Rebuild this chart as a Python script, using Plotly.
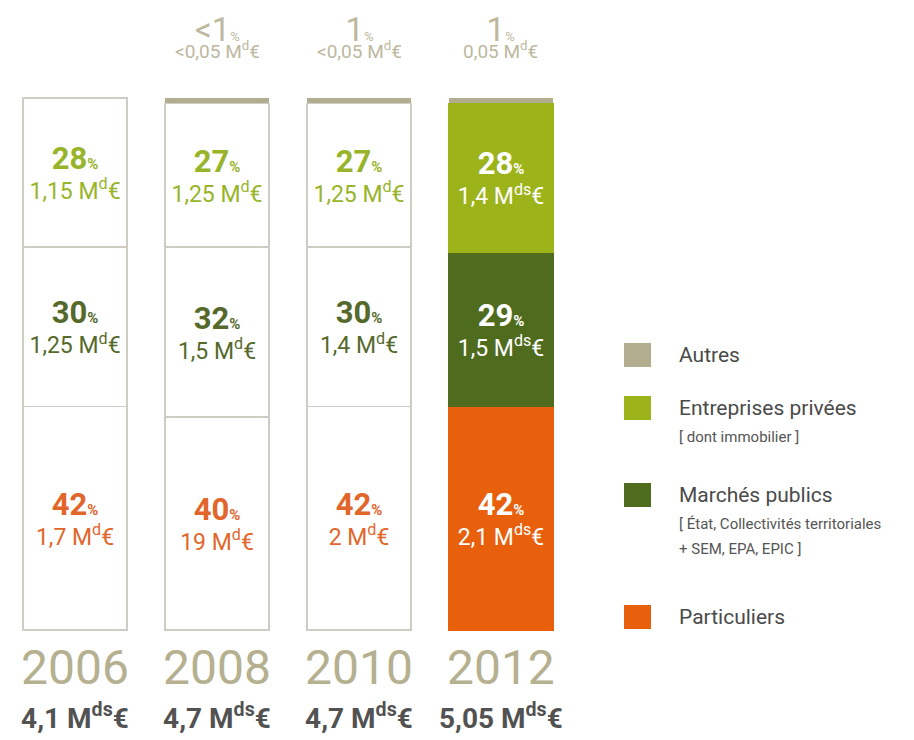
import plotly.graph_objects as go

# donnees
annees = ["2006", "2008", "2010", "2012"]
totaux = ["4,1", "4,7", "4,7", "5,05"]

part_pct = [42, 40, 42, 42]
part_val = ["1,7", "19", "2", "2,1"]
marche_pct = [30, 32, 30, 29]
marche_val = ["1,25", "1,5", "1,4", "1,5"]
entr_pct = [28, 27, 27, 28]
entr_val = ["1,15", "1,25", "1,25", "1,4"]
autres_pct = [0, 1, 1, 1]
autres_lbl = ["", "<1", "1", "1"]
autres_val = ["", "<0,05", "<0,05", "0,05"]
unite = ["M<sup>d</sup>€", "M<sup>d</sup>€", "M<sup>d</sup>€", "M<sup>ds</sup>€"]

FONT = "Liberation Sans Narrow, Roboto, sans-serif"
GRIS = "#cfccc3"
TAN = "#b3ad8f"
couleurs = {
    "Particuliers": "#e8600c",
    "Marchés publics": "#4f6b1e",
    "Entreprises privées": "#9db31a",
    "Autres": TAN,
}
textes = {
    "Particuliers": "#e2662c",
    "Marchés publics": "#56692b",
    "Entreprises privées": "#98b42a",
}

def label(pct, val, u):
    return (f"<b><span style='font-size:31px'>{pct}</span><span style='font-size:15px'>%</span></b>"
            f"<br>{val} {u}")

fig = go.Figure()

series = [("Particuliers", part_pct, part_val),
          ("Marchés publics", marche_pct, marche_val),
          ("Entreprises privées", entr_pct, entr_val)]

for nom, pct, val in series:
    filled = [a == "2012" for a in annees]
    fig.add_bar(
        x=annees, y=pct, name=nom, showlegend=False,
        marker=dict(color=[couleurs[nom] if f else "white" for f in filled],
                    line=dict(color=[couleurs[nom] if f else GRIS for f in filled], width=1.5)),
        text=[label(p, v, u) for p, v, u in zip(pct, val, unite)],
        textposition="inside", insidetextanchor="middle", textangle=0,
        constraintext="none",
        textfont=dict(family=FONT, size=23,
                      color=["white" if f else textes[nom] for f in filled]),
        hoverinfo="skip",
    )

fig.add_bar(x=annees, y=autres_pct, name="Autres", showlegend=False,
            marker=dict(color=TAN, line=dict(color=TAN, width=0)), hoverinfo="skip")

# etiquettes "Autres" au dessus des barres (x = index de categorie)
for i, (l, v) in enumerate(zip(autres_lbl, autres_val)):
    if not l:
        continue
    txt = (f"<span style='font-size:33px'>{l}</span><span style='font-size:13px'>%</span>"
           f"<br><span style='font-size:19px'>{v} M<sup>d</sup>€</span>")
    fig.add_annotation(x=i, y=111.6, text=txt, showarrow=False, yanchor="middle",
                       font=dict(family=FONT, color="#bdb8a0", size=13))

# annees et totaux sous les barres
for i, (a, t) in enumerate(zip(annees, totaux)):
    txt = (f"<span style='font-size:48px;color:#b5b08f'>{a}</span>"
           f"<br><b><span style='font-size:28px'>{t} M<sup>ds</sup>€</span></b>")
    fig.add_annotation(x=i, y=-10.8, text=txt, showarrow=False, yanchor="middle",
                       font=dict(family=FONT, color="#525252", size=34))

# legende faite a la main (pixels de la figure)
legende = [("Autres", 347, []),
           ("Entreprises privées", 400, ["[ dont immobilier ]"]),
           ("Marchés publics", 487, ["[ État, Collectivités territoriales", "+ SEM, EPA, EPIC ]"]),
           ("Particuliers", 609, [])]
W, H = 914, 740
for nom, py, sous in legende:
    fig.add_shape(type="rect", xref="paper", yref="paper",
                  x0=616 / W, x1=643 / W, y0=1 - (py + 12) / H, y1=1 - (py - 12) / H,
                  fillcolor=couleurs[nom], line=dict(width=0))
    fig.add_annotation(xref="paper", yref="paper", x=669 / W, y=1 - py / H, text=nom,
                       xanchor="left", yanchor="middle", showarrow=False,
                       font=dict(family=FONT, color="#4a4a4a", size=21))
    for k, s in enumerate(sous):
        fig.add_annotation(xref="paper", yref="paper", x=669 / W, y=1 - (py + 29 + 25 * k) / H,
                           text=s, xanchor="left", yanchor="middle", showarrow=False,
                           font=dict(family=FONT, color="#555555", size=15))

fig.update_layout(
    width=W, height=H, barmode="stack", bargap=0.27,
    margin=dict(l=0, r=0, t=0, b=0),
    plot_bgcolor="white", paper_bgcolor="white",
    xaxis=dict(type="category", range=[-0.472, 5.965], visible=False, showgrid=False),
    yaxis=dict(range=[-22.18, 116.92], visible=False, showgrid=False),
    font=dict(family=FONT),
)

fig.write_html("out.html")
